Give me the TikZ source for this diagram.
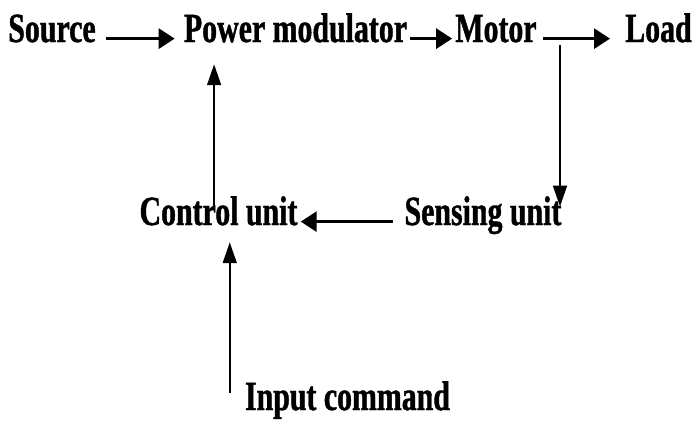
\documentclass[tikz,border=0pt]{standalone}
\usepackage{fontspec}
\newfontfamily\dcfont[FakeStretch=0.72,FakeBold=1]{Liberation Serif}
\usetikzlibrary{arrows.meta,positioning}
\tikzset{
  dc label/.style={font=\dcfont\bfseries\fontsize{29.5pt}{32pt}\selectfont, inner sep=0pt,
    text height=0.7em, text depth=0.22em, anchor=base},
  dc arrow/.style={-{Triangle[length=4mm,width=5mm]}, line width=2.1pt},
  dc feed/.style={-{Triangle[length=5.2mm,width=3.5mm]}, line width=1.1pt}
}

\begin{document}
\begin{tikzpicture}[x=1cm, y=1cm]
  \useasboundingbox (0,0) rectangle (17.325,10.525);
  % forward path
  \node[dc label] (source) at (1.3,9.475) {Source};
  \node[dc label] (power) at (7.3875,9.475) {Power modulator};
  \node[dc label] (motor) at (12.4,9.475) {Motor};
  \node[dc label] (load) at (16.4625,9.475) {Load};
  % feedback path
  \node[dc label] (sense) at (12.075,4.9) {Sensing unit};
  \node[dc label] (control) at (5.4625,4.9) {Control unit};
  \node[dc label] (input) at (8.6875,0.275) {Input command};
  \coordinate (tap) at (14,9.4);
  \draw[dc arrow, shorten <=2.5mm, shorten >=2.25mm] (source.east) -- (power.west);
  \draw[dc arrow, shorten <=0.75mm, shorten >=0.75mm] (power.east) -- (motor.west);
  \draw[dc arrow, shorten <=1.5mm, shorten >=3.75mm] (motor.east) -- (load.west);
  \draw[dc feed, shorten >=2.1mm] (tap) -- (tap |- sense.north);
  \draw[dc arrow, shorten <=2.75mm, shorten >=0.75mm] (sense.west) -- (control.east);
  \draw[dc feed, shorten <=1.6mm, shorten >=4.75mm] ([xshift=-1.1mm]control.north) -- ([xshift=-1.1mm]control.north |- power.south);
  \draw[dc feed, shorten <=1.6mm, shorten >=3.5mm] ([xshift=-3.75mm]input.north west) -- ([xshift=-3.75mm]input.north west |- control.south);
\end{tikzpicture}
\end{document}
